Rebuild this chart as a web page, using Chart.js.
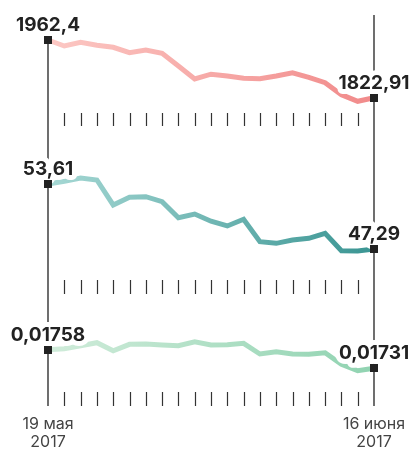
<!DOCTYPE html>
<html>
<head>
<meta charset="utf-8">
<script src="https://cdn.jsdelivr.net/npm/chart.js@4"></script>
<style>
  html, body { margin: 0; padding: 0; background: #fff; }
  #wrap { width: 412px; height: 449px; position: relative; }
</style>
</head>
<body>
<div id="wrap"><canvas id="chart" width="412" height="449"></canvas></div>
<script>
const dates = ["19.05", "22.05", "23.05", "24.05", "25.05", "26.05", "29.05", "30.05", "31.05",
  "01.06", "02.06", "05.06", "06.06", "07.06", "08.06", "09.06", "12.06", "13.06", "14.06", "15.06", "16.06"];

const moex = [1962.4, 1947.9, 1956.8, 1949.6, 1944.7, 1931.7, 1938.2, 1930.2, 1899.5, 1868.1, 1879.7,
  1875.4, 1869.8, 1868.8, 1875.4, 1883.3, 1872.2, 1859.2, 1830.2, 1814.2, 1822.91];

const brent = [53.61, 53.87, 54.19, 54.0, 51.57, 52.32, 52.38, 51.89, 50.33, 50.69, 49.99,
  49.53, 50.18, 48.0, 47.84, 48.16, 48.33, 48.81, 47.12, 47.10, 47.29];

const rub = [0.01758, 0.017595, 0.017638, 0.017682, 0.017565, 0.017658, 0.017663, 0.017648, 0.017638, 0.017696, 0.017648,
  0.017653, 0.017673, 0.017518, 0.017551, 0.017518, 0.017513, 0.017536, 0.017368, 0.017275, 0.01731];

const startLabels = ["1962,4", "53,61", "0,01758"];
const endLabels = ["1822,91", "47,29", "0,01731"];
const dateLabels = [["19 мая", "2017"], ["16 июня", "2017"]];

const H = 449;

// y range so that first value sits at pixel a and last at pixel b
function range(values, a, b) {
  const v1 = values[0], v2 = values[values.length - 1];
  const k = (v1 - v2) / (b - a);
  const max = v1 + a * k;
  return { min: max - H * k, max: max };
}

function gradient(from, to) {
  return (ctx) => {
    const area = ctx.chart.chartArea;
    if (!area) return from;
    const g = ctx.chart.ctx.createLinearGradient(area.left, 0, area.right, 0);
    g.addColorStop(0, from);
    g.addColorStop(1, to);
    return g;
  };
}

const r1 = range(moex, 40, 97.7);
const r2 = range(brent, 184, 249);
const r3 = range(rub, 349.7, 368.3);

const tickRows = [[113, 126], [280, 294], [392, 406]];

const decor = {
  id: "decor",
  afterDatasetsDraw(chart) {
    const c = chart.ctx;
    const x = chart.scales.x;
    const axes = ["y1", "y2", "y3"];
    const left = x.getPixelForValue(0);
    const right = x.getPixelForValue(dates.length - 1);
    const first = chart.scales.y1.getPixelForValue(moex[0]);

    c.save();
    c.strokeStyle = "#222";
    c.lineWidth = 1.3;
    c.beginPath();
    c.moveTo(left, first);
    c.lineTo(left, 406);
    c.moveTo(right, 15);
    c.lineTo(right, 406);
    c.stroke();

    c.lineWidth = 1.2;
    c.strokeStyle = "#333";
    c.beginPath();
    tickRows.forEach(([t, b]) => {
      for (let i = 1; i < dates.length - 1; i++) {
        const px = Math.round(x.getPixelForValue(i)) + 0.5;
        c.moveTo(px, t);
        c.lineTo(px, b);
      }
    });
    c.stroke();

    // value labels with white halo
    c.font = "bold 19px Inter";
    c.textAlign = "center";
    c.textBaseline = "alphabetic";
    c.lineJoin = "round";
    const data = [moex, brent, rub];
    data.forEach((d, i) => {
      const sc = chart.scales[axes[i]];
      const y0 = sc.getPixelForValue(d[0]);
      const y1 = sc.getPixelForValue(d[d.length - 1]);
      [[startLabels[i], left, y0], [endLabels[i], right, y1]].forEach(([txt, px, py]) => {
        c.strokeStyle = "#fff";
        c.lineWidth = 10;
        c.strokeText(txt, px, py - 9);
        c.fillStyle = "#222";
        c.fillText(txt, px, py - 9);
      });
    });

    // end markers
    c.fillStyle = "#222";
    data.forEach((d, i) => {
      const sc = chart.scales[axes[i]];
      [[left, d[0]], [right, d[d.length - 1]]].forEach(([px, v]) => {
        const py = sc.getPixelForValue(v);
        c.fillRect(Math.round(px) - 4, Math.round(py) - 4, 8, 8);
      });
    });

    // dates
    c.font = "16px Inter";
    c.fillStyle = "#444";
    dateLabels.forEach((lines, i) => {
      const px = i === 0 ? left : right;
      c.fillText(lines[0], px, 429);
      c.fillText(lines[1], px, 447);
    });
    c.restore();
  }
};

const line = (data, axis, from, to) => ({
  data: data,
  yAxisID: axis,
  borderColor: gradient(from, to),
  borderWidth: 5,
  pointRadius: 0,
  tension: 0,
  fill: false
});

new Chart(document.getElementById("chart"), {
  type: "line",
  data: {
    labels: dates,
    datasets: [
      line(moex, "y1", "#fcc8c4", "#f18a8a"),
      line(brent, "y2", "#a6d8d4", "#3a9593"),
      line(rub, "y3", "#d0ecda", "#90d3b1")
    ]
  },
  options: {
    responsive: false,
    animation: false,
    layout: { padding: { left: 48, right: 38, top: 0, bottom: 0 } },
    plugins: { legend: { display: false }, tooltip: { enabled: false } },
    scales: {
      x: { type: "category", offset: false, display: false },
      y1: { display: false, min: r1.min, max: r1.max },
      y2: { display: false, min: r2.min, max: r2.max },
      y3: { display: false, min: r3.min, max: r3.max }
    }
  },
  plugins: [decor]
});
</script>
</body>
</html>
